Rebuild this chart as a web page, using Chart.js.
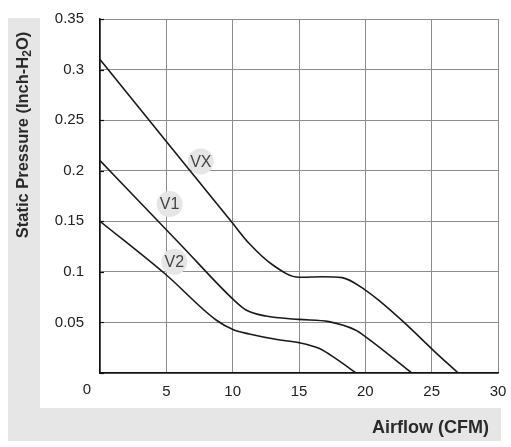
<!DOCTYPE html>
<html>
<head>
<meta charset="utf-8">
<script src="https://cdn.jsdelivr.net/npm/chart.js@4/dist/chart.umd.min.js"></script>
<style>
  body { margin: 0; background: #fff; }
  #wrap { width: 511px; height: 447px; }
</style>
</head>
<body>
<div id="wrap"><canvas id="pqChart"></canvas></div>
<script>
// P-Q curves
const vxFlow = [0, 5, 10, 11.25, 13, 15, 16.75, 18.25, 20, 21, 23, 25.1, 27];
const vxPressure = [0.31, 0.229, 0.148, 0.128, 0.107, 0.0946, 0.0952, 0.0943, 0.082, 0.072, 0.049, 0.0227, 0];

const v1Flow = [0, 6.1, 10.1, 11, 12.5, 15, 17.25, 19.25, 20, 23.5];
const v1Pressure = [0.21, 0.1266, 0.072, 0.0623, 0.0563, 0.053, 0.0508, 0.0425, 0.036, 0];

const v2Flow = [0, 5, 8.75, 10.1, 11.25, 13.25, 15, 16.5, 17.75, 19.3];
const v2Pressure = [0.15, 0.0969, 0.0524, 0.0425, 0.0386, 0.0333, 0.030, 0.0244, 0.0145, 0];

// curve name tags
const tagNames = ['VX', 'V1', 'V2'];
const tagFlow = [7.6, 5.25, 5.6];
const tagPressure = [0.209, 0.167, 0.11];

const xTicksMax = 30;
const yTicksMax = 0.35;

const FONT = '"Liberation Sans", Arial, sans-serif';

function toPoints(xs, ys) {
    return xs.map((x, i) => ({ x: x, y: ys[i] }));
}

const curveStyle = {
    borderColor: '#1a1a1a',
    borderWidth: 1.6,
    pointRadius: 0,
    fill: false,
    cubicInterpolationMode: 'monotone'
};

// gray L-shaped band behind the axis titles
const bandPlugin = {
    id: 'band',
    beforeDraw(chart) {
        const ctx = chart.ctx;
        ctx.save();
        ctx.fillStyle = '#e6e6e7';
        ctx.fillRect(8, 18, 32, 423);
        ctx.fillRect(8, 408, 493, 33);
        ctx.restore();
    }
};

// tags, axis titles, small inner ticks and the shared "0"
const textPlugin = {
    id: 'texts',
    afterDatasetsDraw(chart) {
        const ctx = chart.ctx;
        const tags = chart.getDatasetMeta(3).data;
        ctx.save();
        ctx.font = '16px ' + FONT;
        ctx.fillStyle = '#444';
        ctx.textAlign = 'center';
        ctx.textBaseline = 'middle';
        tags.forEach((pt, i) => {
            ctx.fillText(tagNames[i], pt.x, pt.y + 1);
        });
        ctx.restore();
    },
    afterDraw(chart) {
        const ctx = chart.ctx;
        const xs = chart.scales.x, ys = chart.scales.y;
        ctx.save();

        // short dark ticks inside the left axis
        ctx.strokeStyle = '#111';
        ctx.lineWidth = 1.2;
        ys.ticks.forEach(t => {
            const py = Math.round(ys.getPixelForValue(t.value)) + 0.5;
            ctx.beginPath();
            ctx.moveTo(xs.left, py);
            ctx.lineTo(xs.left + 4, py);
            ctx.stroke();
        });

        ctx.fillStyle = '#222';
        ctx.font = '15px ' + FONT;
        ctx.textAlign = 'center';
        ctx.textBaseline = 'middle';
        ctx.fillText('0', xs.getPixelForValue(0) - 13, 390);

        // x title
        ctx.fillStyle = '#2a2a2a';
        ctx.font = 'bold 18px ' + FONT;
        ctx.textAlign = 'right';
        ctx.fillText('Airflow (CFM)', 489, 428);

        // y title with subscript 2
        const big = 'bold 16.5px ' + FONT;
        const small = 'bold 12px ' + FONT;
        const p1 = 'Static Pressure (Inch-H', p2 = '2', p3 = 'O)';
        ctx.font = big;
        const w1 = ctx.measureText(p1).width, w3 = ctx.measureText(p3).width;
        ctx.font = small;
        const w2 = ctx.measureText(p2).width;
        const total = w1 + w2 + w3;
        ctx.translate(23, 135);
        ctx.rotate(-Math.PI / 2);
        ctx.textAlign = 'left';
        const x0 = -total / 2;
        ctx.font = big;
        ctx.fillText(p1, x0, 0);
        ctx.font = small;
        ctx.fillText(p2, x0 + w1, 5);
        ctx.font = big;
        ctx.fillText(p3, x0 + w1 + w2, 0);
        ctx.restore();
    }
};

new Chart(document.getElementById('pqChart').getContext('2d'), {
    type: 'line',
    data: {
        datasets: [
            Object.assign({ label: 'VX', data: toPoints(vxFlow, vxPressure) }, curveStyle),
            Object.assign({ label: 'V1', data: toPoints(v1Flow, v1Pressure) }, curveStyle),
            Object.assign({ label: 'V2', data: toPoints(v2Flow, v2Pressure) }, curveStyle),
            {
                label: 'tags',
                data: toPoints(tagFlow, tagPressure),
                showLine: false,
                pointRadius: 13,
                pointBackgroundColor: '#e6e6e7',
                pointBorderWidth: 0
            }
        ]
    },
    options: {
        responsive: true,
        maintainAspectRatio: false,
        animation: false,
        layout: { padding: { left: 0, right: 11, top: 19, bottom: 0 } },
        plugins: {
            legend: { display: false },
            tooltip: { enabled: false }
        },
        scales: {
            x: {
                type: 'linear',
                min: 0,
                max: xTicksMax,
                afterFit: s => { s.height = 74; s.paddingLeft = 0; s.paddingRight = 0; },
                grid: { color: '#8c8c8c', lineWidth: 1, drawTicks: false },
                border: { color: '#111', width: 1.5 },
                ticks: {
                    stepSize: 5,
                    padding: 10,
                    color: '#222',
                    font: { size: 15, family: FONT },
                    maxRotation: 0,
                    callback: v => v === 0 ? '' : v
                }
            },
            y: {
                min: 0,
                max: yTicksMax,
                afterFit: s => { s.width = 100; s.paddingTop = 0; s.paddingBottom = 0; },
                grid: { color: '#8c8c8c', lineWidth: 1, drawTicks: false },
                border: { color: '#111', width: 1.5 },
                ticks: {
                    stepSize: 0.05,
                    padding: 16,
                    color: '#222',
                    font: { size: 15, family: FONT },
                    callback: v => v === 0 ? '' : String(+v.toFixed(2))
                }
            }
        }
    },
    plugins: [bandPlugin, textPlugin]
});
</script>
</body>
</html>
